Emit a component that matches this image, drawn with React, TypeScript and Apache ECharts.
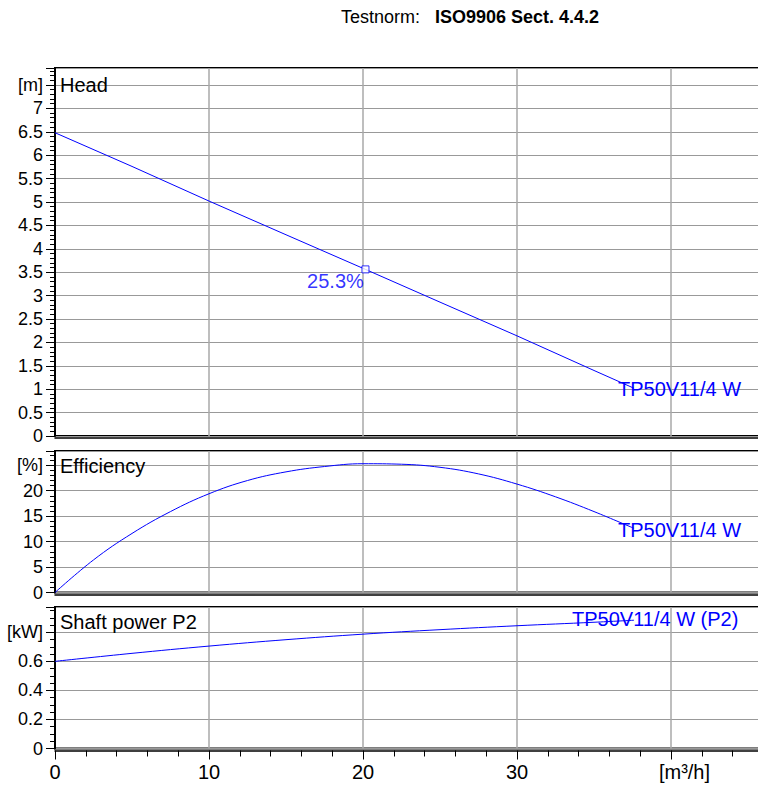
import React, { useEffect, useRef } from 'react';
import * as echarts from 'echarts';

// ---- data ----
const headFlow = [0, 5, 10, 15, 20.16, 25, 30, 35, 37.6];
const headValues = [6.48, 5.76, 5.02, 4.3, 3.56, 2.86, 2.14, 1.4, 1.02];

const effFlow = [0, 2.5, 5, 7.5, 10, 12.5, 15, 17.5, 20, 22.5, 25, 27.5, 30, 32.5, 35, 37.6];
const effValues = [0, 6.4, 11.6, 15.9, 19.4, 22.0, 23.7, 24.75, 25.3, 25.2, 24.6, 23.3, 21.3, 18.8, 15.9, 12.6];

const powerFlow = [0, 5, 10, 15, 20, 25, 30, 35, 37.6];
const powerValues = [0.6, 0.655, 0.705, 0.749, 0.787, 0.818, 0.845, 0.869, 0.883];

const bepPoint = [20.16, 3.56];
const bepLabel = '25.3%';
const pumpName = 'TP50V11/4 W';
const powerName = 'TP50V11/4 W (P2)';

const titles = ['Head', 'Efficiency', 'Shaft power P2'];
const yUnits = ['[m]', '[%]', '[kW]'];
const yUnitAt = [7.5, 25, 0.8];
const yMax = [7.863, 27.8, 0.974];
const yInterval = [0.5, 5, 0.2];
const yMinorSplit = [5, 5, 4];
const xUnit = '[m³/h]';
const headerLeft = 'Testnorm:';
const headerRight = 'ISO9906 Sect. 4.4.2';

const FONT = '"Liberation Sans", Arial, Helvetica, sans-serif';
const BLUE = '#0000ff';

const zip = (a: number[], b: number[]) => a.map((v, i) => [v, b[i]]);

export default function App() {
  const ref = useRef<HTMLDivElement>(null);

  useEffect(() => {
    const chart = echarts.init(ref.current!, null, { renderer: 'svg' });

    const gridTops = [68, 451, 607];
    const gridHeights = [368, 141.5, 141.5];

    const grid = gridTops.map((t, i) => ({
      left: 55,
      width: 770,
      top: t,
      height: gridHeights[i],
      outerBoundsMode: 'none',
      containLabel: false,
      show: true,
      borderColor: '#000',
      borderWidth: 2,
      backgroundColor: 'transparent',
    }));

    const xAxis = [0, 1, 2].map((i) => ({
      type: 'value',
      gridIndex: i,
      min: 0,
      max: 50,
      interval: 10,
      offset: 2,
      axisLine: { show: true, onZero: false, lineStyle: { color: '#000', width: 1.5 } },
      axisTick: i === 2 ? { show: true, length: 9, lineStyle: { color: '#000', width: 1 } } : { show: false },
      minorTick: i === 2 ? { show: true, splitNumber: 5, length: 6, lineStyle: { color: '#000', width: 1 } } : { show: false },
      axisLabel:
        i === 2
          ? {
              show: true,
              fontSize: 20,
              fontFamily: FONT,
              color: '#000',
              margin: 11,
              showMaxLabel: false,
              formatter: (v: number) => {
                if (Math.abs(v - 40) < 1e-6) return '{u|' + xUnit + '}';
                if (v > 40) return '';
                return String(v);
              },
              rich: { u: { fontSize: 20, fontFamily: FONT, color: '#000', padding: [0, 0, 0, 27] } },
            }
          : { show: false },
      splitLine: { show: true, lineStyle: { color: '#a8a8a8', width: 1.5 } },
    }));

    const yAxis = [0, 1, 2].map((i) => ({
      type: 'value',
      gridIndex: i,
      min: 0,
      max: yMax[i],
      interval: yInterval[i],
      axisLine: { show: true, lineStyle: { color: '#000', width: 2 } },
      axisTick: { show: true, length: 9, lineStyle: { color: '#000', width: 1 } },
      minorTick: { show: true, splitNumber: yMinorSplit[i], length: 5, lineStyle: { color: '#000', width: 1 } },
      axisLabel: {
        fontSize: 18,
        fontFamily: FONT,
        color: '#000',
        margin: 12,
        showMaxLabel: false,
        formatter: (v: number) => (Math.abs(v - yUnitAt[i]) < 1e-6 ? yUnits[i] : String(v)),
      },
      splitLine: { show: true, lineStyle: { color: '#999', width: 1 } },
    }));

    const endLabel = (text: string, offset: number[]) => ({
      show: true,
      formatter: text,
      color: BLUE,
      fontSize: 20,
      fontFamily: FONT,
      distance: 0,
      offset,
    });

    const series: any[] = [
      {
        type: 'line',
        xAxisIndex: 0,
        yAxisIndex: 0,
        data: zip(headFlow, headValues),
        showSymbol: false,
        lineStyle: { color: BLUE, width: 1 },
        endLabel: endLabel(pumpName, [-16, 1]),
      },
      {
        type: 'scatter',
        xAxisIndex: 0,
        yAxisIndex: 0,
        data: [bepPoint],
        symbol: 'rect',
        symbolSize: 7,
        z: 5,
        itemStyle: { color: '#fff', borderColor: BLUE, borderWidth: 1 },
        label: {
          show: true,
          formatter: bepLabel,
          position: 'inside',
          offset: [-30, 12],
          color: BLUE,
          fontSize: 20,
          fontFamily: FONT,
        },
      },
      {
        type: 'line',
        xAxisIndex: 1,
        yAxisIndex: 1,
        data: zip(effFlow, effValues),
        smooth: 0.4,
        showSymbol: false,
        lineStyle: { color: BLUE, width: 1 },
        endLabel: endLabel(pumpName, [-16, 2]),
      },
      {
        type: 'line',
        xAxisIndex: 2,
        yAxisIndex: 2,
        data: zip(powerFlow, powerValues),
        smooth: 0.4,
        showSymbol: false,
        lineStyle: { color: BLUE, width: 1 },
        endLabel: endLabel(powerName, [-62, -1]),
      },
    ];

    const titleY = [84.7, 465.8, 621.7];
    const graphic: any[] = [
      ...titles.map((t, i) => ({
        type: 'text',
        x: 60,
        y: titleY[i],
        z: 10,
        style: { text: t, fontSize: 20, fontFamily: FONT, fill: '#000', align: 'left', verticalAlign: 'middle' },
      })),
      {
        type: 'text',
        x: 341,
        y: 17,
        style: { text: headerLeft, fontSize: 18, fontFamily: FONT, fill: '#000', align: 'left', verticalAlign: 'middle' },
      },
      {
        type: 'text',
        x: 435,
        y: 17,
        style: {
          text: headerRight,
          fontSize: 18,
          fontWeight: 'bold',
          fontFamily: FONT,
          fill: '#000',
          align: 'left',
          verticalAlign: 'middle',
        },
      },
    ];

    chart.setOption({
      animation: false,
      backgroundColor: '#fff',
      grid,
      xAxis,
      yAxis,
      series,
      graphic,
    });

    return () => chart.dispose();
  }, []);

  return (
    <div
      ref={ref}
      style={{ position: 'absolute', left: 0, top: 0, width: 758, height: 788 }}
    />
  );
}
